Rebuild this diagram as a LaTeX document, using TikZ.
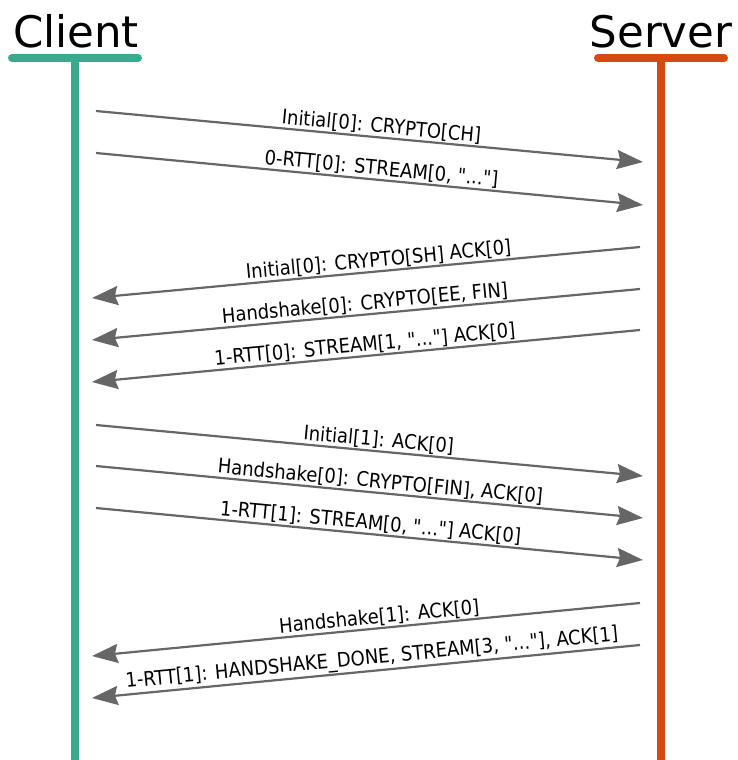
\documentclass[tikz,border=0pt]{standalone}
\usepackage{fontspec}
\setmainfont{DejaVu Sans}
\newfontfamily\msgfont{DejaVu Sans Condensed}
\usetikzlibrary{arrows.meta}

\definecolor{clientcol}{RGB}{58,170,143}
\definecolor{servercol}{RGB}{212,74,16}
\definecolor{msgcol}{RGB}{102,102,102}

\tikzset{
  party/.style={font=\fontsize{43.5}{50}\selectfont, anchor=base, inner sep=0pt},
  lifebar/.style={line width=8pt, line cap=round},
  lifeline/.style={line width=8pt},
  msg/.style={draw=msgcol, line width=2.2pt,
    -{Stealth[length=26pt, width=19pt, inset=3pt]}},
  msglabel/.style={font=\msgfont\fontsize{20}{24}\selectfont, above, sloped, inner sep=1pt}
}

\begin{document}
\begin{tikzpicture}[x=1pt, y=-1pt]
  \useasboundingbox (0,0) rectangle (737,760);

  % participants
  \node[party] (client) at (76,48) {Client};
  \node[party] (server) at (661,48) {Server};

  \coordinate (cbarL) at (12,58);
  \coordinate (cbarR) at (138,58);
  \coordinate (ctop) at (74.5,58);
  \coordinate (cbot) at (74.5,760);
  \coordinate (sbarL) at (598,58);
  \coordinate (sbarR) at (724,58);
  \coordinate (stop) at (661,58);
  \coordinate (sbot) at (661,760);

  \draw[lifebar, clientcol] (cbarL) -- (cbarR);
  \draw[lifeline, clientcol] (ctop) -- (cbot);
  \draw[lifebar, servercol] (sbarL) -- (sbarR);
  \draw[lifeline, servercol] (stop) -- (sbot);

  % message end points
  \coordinate (a1) at (96,111);  \coordinate (b1) at (643,162);
  \coordinate (a2) at (96,153);  \coordinate (b2) at (643,205);
  \coordinate (a3) at (640,247); \coordinate (b3) at (92,298);
  \coordinate (a4) at (640,289); \coordinate (b4) at (92,340);
  \coordinate (a5) at (640,330); \coordinate (b5) at (92,382);
  \coordinate (a6) at (96,425);  \coordinate (b6) at (643,476);
  \coordinate (a7) at (96,466);  \coordinate (b7) at (643,518);
  \coordinate (a8) at (96,508);  \coordinate (b8) at (643,560);
  \coordinate (a9) at (640,603); \coordinate (b9) at (92,656);
  \coordinate (a10) at (640,645); \coordinate (b10) at (92,698);

  % messages
  \draw[msg] (a1) -- node[msglabel, pos=0.52] (m1) {Initial[0]: CRYPTO[CH]} (b1);
  \draw[msg] (a2) -- node[msglabel, pos=0.52] (m2) {0-RTT[0]: STREAM[0, "..."]} (b2);
  \draw[msg] (a3) -- node[msglabel, pos=0.475] (m3) {Initial[0]: CRYPTO[SH] ACK[0]} (b3);
  \draw[msg] (a4) -- node[msglabel, pos=0.5] (m4) {Handshake[0]: CRYPTO[EE, FIN]} (b4);
  \draw[msg] (a5) -- node[msglabel, pos=0.5] (m5) {1-RTT[0]: STREAM[1, "..."] ACK[0]} (b5);
  \draw[msg] (a6) -- node[msglabel, pos=0.515] (m6) {Initial[1]: ACK[0]} (b6);
  \draw[msg] (a7) -- node[msglabel, pos=0.518] (m7) {Handshake[0]: CRYPTO[FIN], ACK[0]} (b7);
  \draw[msg] (a8) -- node[msglabel, pos=0.5] (m8) {1-RTT[1]: STREAM[0, "..."] ACK[0]} (b8);
  \draw[msg] (a9) -- node[msglabel, pos=0.474] (m9) {Handshake[1]: ACK[0]} (b9);
  \draw[msg] (a10) -- node[msglabel, pos=0.487] (m10) {1-RTT[1]: HANDSHAKE\_DONE, STREAM[3, "..."], ACK[1]} (b10);
\end{tikzpicture}
\end{document}
